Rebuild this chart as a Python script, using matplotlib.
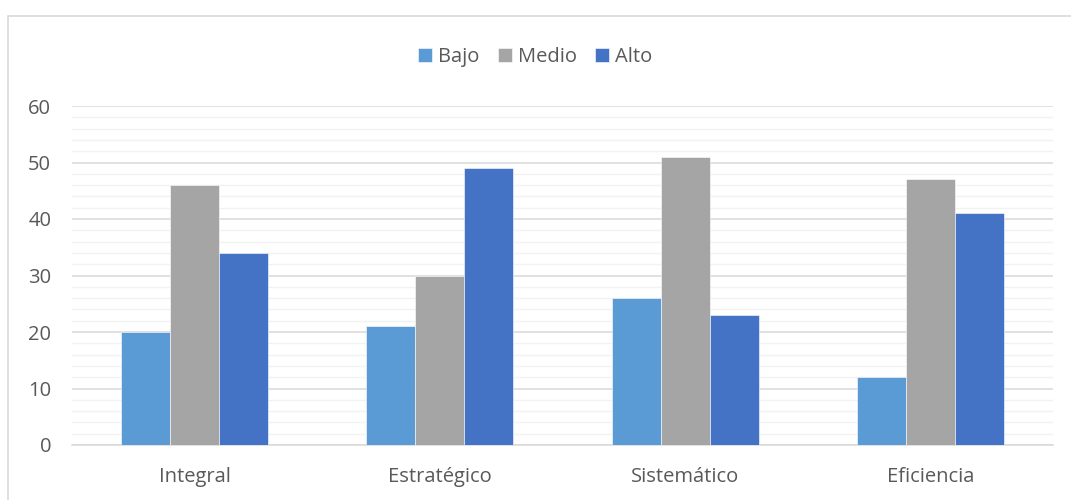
import numpy as np
import matplotlib.pyplot as plt
from matplotlib.patches import Rectangle

# Datos por dimensión y nivel
categorias = ['Integral', 'Estratégico', 'Sistemático', 'Eficiencia']
bajo = [20, 21, 26, 12]
medio = [46, 30, 51, 47]
alto = [34, 49, 23, 41]

series = [('Bajo', bajo, '#5B9BD5'), ('Medio', medio, '#A5A5A5'), ('Alto', alto, '#4472C4')]

plt.rcParams['font.family'] = ['Open Sans', 'DejaVu Sans']

fig = plt.figure(figsize=(10.71, 5), dpi=100)
ax = fig.add_axes([0.0672, 0.11, 0.916, 0.678])

x = np.arange(len(categorias))
ancho = 0.2
for i, (nombre, vals, color) in enumerate(series):
    ax.bar(x + (i - 1) * ancho, vals, width=ancho, color=color, label=nombre,
           edgecolor='white', linewidth=0.4, zorder=3)

ax.set_xlim(-0.5, len(categorias) - 0.5)
ax.set_ylim(0, 60)
ax.set_yticks(range(0, 61, 10))
ax.set_yticks(range(0, 61, 2), minor=True)
ax.grid(axis='y', which='major', color='#D9D9D9', linewidth=1.1, zorder=0)
ax.grid(axis='y', which='minor', color='#F2F2F2', linewidth=1.0, zorder=0)

ax.set_xticks(x)
ax.set_xticklabels(categorias)
ax.tick_params(axis='both', which='both', length=0, labelsize=14.5, colors='#595959')
ax.tick_params(axis='x', pad=16)
ax.tick_params(axis='y', pad=15)

for side in ['top', 'right', 'left']:
    ax.spines[side].set_visible(False)
ax.spines['bottom'].set_color('#D9D9D9')
ax.spines['bottom'].set_linewidth(1.1)

fig.legend(loc='center', bbox_to_anchor=(0.5, 0.886), ncol=3, frameon=False,
           fontsize=14.5, handlelength=0.7, handleheight=0.7, handletextpad=0.3,
           columnspacing=0.9, labelcolor='#595959')

# Marco del gráfico
fig.patches.append(Rectangle((8 / 1071, -0.1), 1.1, 0.968 + 0.1, transform=fig.transFigure,
                             fill=False, edgecolor='#D9D9D9', linewidth=1.2, clip_on=False))

fig.savefig('out.png', dpi=100)
